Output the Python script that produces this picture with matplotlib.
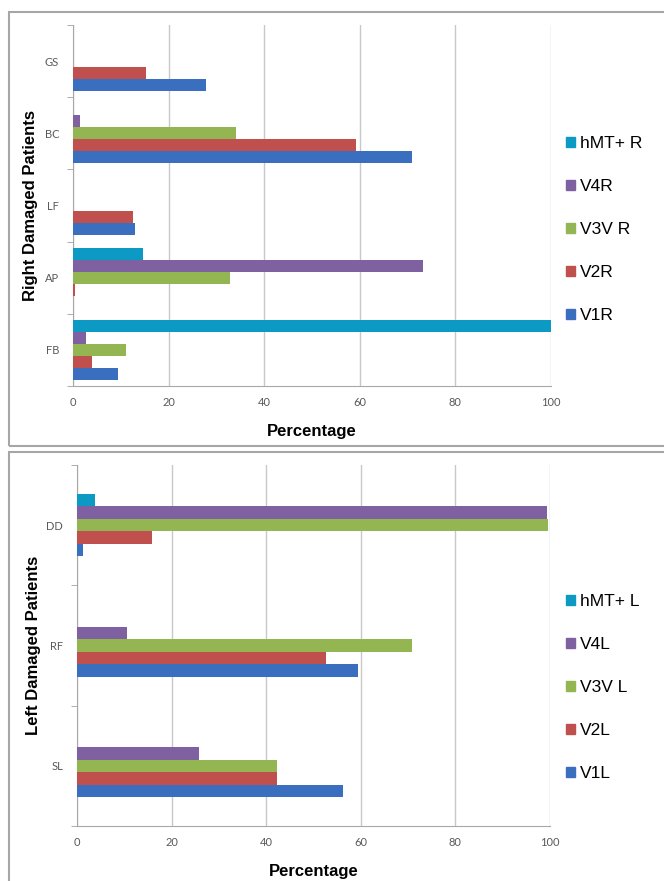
import numpy as np
import matplotlib
matplotlib.use('Agg')
import matplotlib.pyplot as plt
from matplotlib.patches import Rectangle, Patch

# data -- series listed V1 .. hMT+, categories bottom -> top
right_cats = ['FB', 'AP', 'LF', 'BC', 'GS']
right_series = ['V1R', 'V2R', 'V3V R', 'V4R', 'hMT+ R']
v1r = [9.5, 0, 13.0, 71.0, 27.8]
v2r = [3.9, 0.4, 12.5, 59.3, 15.3]
v3vr = [11.1, 32.9, 0, 34.0, 0]
v4r = [2.8, 73.2, 0, 1.5, 0]
hmtr = [100, 14.7, 0, 0, 0]

left_cats = ['SL', 'RF', 'DD']
left_series = ['V1L', 'V2L', 'V3V L', 'V4L', 'hMT+ L']
v1l = [56.3, 59.5, 1.3]
v2l = [42.2, 52.6, 15.8]
v3vl = [42.2, 70.9, 99.6]
v4l = [25.8, 10.6, 99.4]
hmtl = [0, 0, 3.8]

colors = ['#3A6FC0', '#C0504D', '#93B552', '#7F60A1', '#0C9AC4']
tick_grey = '#595959'

W, H = 664, 881
fig = plt.figure(figsize=(W / 100, H / 100), dpi=100)


def px_axes(x0, y0, x1, y1):
    # pixel box (top-left origin) -> figure fraction
    return fig.add_axes([x0 / W, 1 - y1 / H, (x1 - x0) / W, (y1 - y0) / H])


def panel(ax, cats, names, vals, bar_h, ylabel, ylab_x, leg_top):
    y = np.arange(len(cats))
    for i, (name, v) in enumerate(zip(names, vals)):
        ax.barh(y + (i - 2) * bar_h, v, height=bar_h, color=colors[i], label=name, zorder=3)
    ax.set_xlim(0, 100)
    ax.set_ylim(-0.5, len(cats) - 0.5)
    ax.set_xticks([0, 20, 40, 60, 80, 100])
    ax.set_yticks(y)
    ax.set_yticklabels(cats)
    ax.set_yticks(np.arange(len(cats) + 1) - 0.5, minor=True)
    ax.tick_params(axis='y', which='major', length=0, pad=10, labelsize=8, labelcolor=tick_grey)
    ax.tick_params(axis='y', which='minor', length=4, color='#A0A0A0', direction='out')
    ax.tick_params(axis='x', length=0, pad=8, labelsize=8, labelcolor=tick_grey)
    for lab in ax.get_xticklabels() + ax.get_yticklabels():
        lab.set_family('Lato')
    ax.grid(axis='x', color='#C8C8C8', lw=1, zorder=0)
    for s in ['top', 'right']:
        ax.spines[s].set_visible(False)
    for s in ['left', 'bottom']:
        ax.spines[s].set_color('#A8A8A8')
    ax.set_xlabel('Percentage', fontsize=12, fontweight='bold', family='Liberation Sans')
    ax.xaxis.set_label_coords(0.5, -0.105)
    ax.set_ylabel(ylabel, fontsize=12, fontweight='bold', family='Liberation Sans')
    ax.yaxis.set_label_coords(ylab_x, 0.5)
    handles = [Patch(color=colors[i], label=names[i]) for i in range(4, -1, -1)]
    fig.legend(handles=handles, loc='upper left', bbox_to_anchor=(566 / W, 1 - leg_top / H),
               frameon=False, prop={'family': 'Liberation Sans', 'size': 12.5},
               borderpad=0, borderaxespad=0,
               handlelength=0.5, handleheight=0.5, handletextpad=0.3, labelspacing=1.62)


# panel borders
fig.patches.append(Rectangle((9 / W, 1 - 446 / H), 700 / W, 434 / H, transform=fig.transFigure,
                             fill=False, ec='#A6A6A6', lw=1.5))
fig.patches.append(Rectangle((9 / W, 1 - 900 / H), 700 / W, 448 / H, transform=fig.transFigure,
                             fill=False, ec='#A6A6A6', lw=1.5))

ax1 = px_axes(73, 25, 551, 386)
panel(ax1, right_cats, right_series, [v1r, v2r, v3vr, v4r, hmtr], 0.166,
      'Right Damaged Patients', -0.073, 136)

ax2 = px_axes(77, 465, 550, 826)
panel(ax2, left_cats, left_series, [v1l, v2l, v3vl, v4l, hmtl], 0.104,
      'Left Damaged Patients', -0.076, 594)

plt.savefig('out.png', dpi=100)
